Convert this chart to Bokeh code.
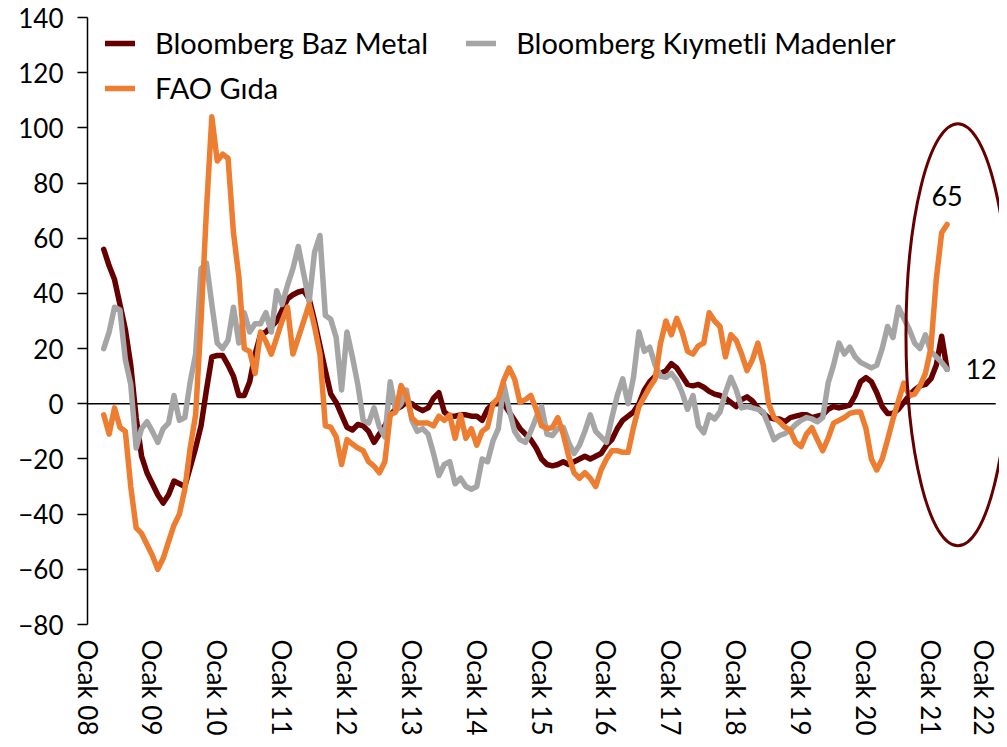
from bokeh.plotting import figure
from bokeh.models import Range1d, FixedTicker, Legend, LegendItem
from bokeh.embed import file_html
from bokeh.resources import INLINE
from bokeh.core.properties import value

# month index counted from Ocak 2008 (0); data run Nisan 2008 .. Nisan 2021
months = list(range(3, 160))

baz_metal = [
    56, 50, 45, 36, 27, 14, -5, -19, -25, -29,
    -33, -36, -33, -28, -29, -30, -23, -16, -8, 5, 17, 17.5,
    17.5, 14, 10, 3, 3, 8, 18, 25, 26, 28, 30, 34,
    38, 39.5, 40.5, 41, 38, 30, 21, 12, 3.5, 0.5, -4, -8.5,
    -9.5, -7.5, -8, -10, -14, -11, -8, -4, -2, -1, 0.5, 0,
    -1.5, -2.5, -1.5, 2, 4, -3, -4.5, -4.5, -4, -4, -4.5, -4.5,
    -6, -2, 0, 0, 0, -3, -6, -9, -11, -13, -16, -20,
    -22, -22.5, -22, -21, -22, -21, -20, -19, -20, -19, -18, -15,
    -13, -9, -6, -4.5, -3, 0, 5, 8, 10, 11, 12, 14.5,
    13, 10, 7, 6.5, 7, 6, 4.5, 3.5, 3, 2, 0.5, -1,
    1.5, 2.5, 1, -1.5, -3.5, -5, -5.5, -5.5, -6.5, -5, -4.5, -4,
    -4, -5, -4.5, -4, -2, -1, -1.5, -1, -0.5, 3, 8, 9.5,
    8, 4, -1, -3.5, -3.5, -2, 0.5, 3, 5, 6.5, 7, 9,
    14, 24.5, 12.5,
]

kiymetli = [
    20, 26, 35, 34, 16, 7, -16, -9, -6.5, -10,
    -14, -9, -7, 3, -6, -5, 8, 18, 49, 51, 36, 22,
    20, 23, 35, 22, 33, 26, 29, 29, 33, 26, 41, 36,
    43, 49, 57, 47, 37, 55, 61, 32, 30.6, 24, 5, 26,
    17, 7, -6, -7, -1.5, -8.5, -12, 8, -2.5, 0, 5, -6,
    -10, -9, -11, -18, -26, -22, -21, -29, -27, -30, -31, -30,
    -20, -21, -13.5, -9, 7, -2, -10, -13, -14, -10, -5, -1,
    -11, -11.5, -9, -8.5, -14, -18, -15, -10, -4, -10, -12, -14,
    -5, 3, 9, 0, 9.6, 26, 19, 20.5, 14, 10, 9.6, 11,
    8.5, 4, -2, 3, -8, -10.5, -4, -5.5, -3, 4, 9.6, 5,
    -1.5, -1, -1.5, -2, -3, -8, -13, -11.5, -10.8, -9.5, -7.5, -6,
    -5, -5.5, -6.5, -5, 7.5, 14, 22, 18, 20.5, 17, 15, 14,
    13, 14, 20, 28, 24, 35, 31, 27, 22, 20, 25, 19,
    17, 15, 12.5,
]

fao_gida = [
    -4, -11, -1.5, -8.5, -10, -30, -45, -47, -51, -55,
    -60, -56, -50, -44, -40, -31, -16, -4, 30, 70, 104, 88,
    90.5, 89, 62, 46, 20, 19, 11, 26, 22.6, 18, 24, 30,
    35, 18, 24, 30, 36, 28, 18, -8, -8.5, -12, -22, -13,
    -14.6, -16, -17, -21, -22.6, -25, -21, -4, -3, 6.6, 3, -5,
    -7, -7, -7, -8, -4.5, -6, -4, -12.5, -4, -12.5, -9, -15,
    -10, -8.5, 0, 2, 8.5, 13, 9, 0.5, 1.5, 3, -2, -8,
    -9, -8.6, -5, -11, -19, -25, -27, -25, -27, -30, -24, -20,
    -17, -17, -17.6, -17.6, -8.5, -1, 2.5, 6, 9, 22, 30, 25,
    31, 26, 19, 18, 21, 22, 33, 30, 28, 17, 25, 23,
    18, 12, 16, 22, 14, 0, -5, -6.5, -8.5, -9.6, -14, -15.5,
    -11, -8.7, -13, -17, -12.5, -7, -6, -5, -3.5, -3, -3, -9,
    -20, -24, -20, -13, -5.5, 1, 7.5, 3, 3.5, 6.5, 11, 20,
    45, 62, 65,
]

tick_months = [0, 12, 24, 36, 48, 60, 72, 84, 96, 108, 120, 132, 144, 156, 168]
tick_labels = ["Ocak 08", "Ocak 09", "Ocak 10", "Ocak 11", "Ocak 12", "Ocak 13",
               "Ocak 14", "Ocak 15", "Ocak 16", "Ocak 17", "Ocak 18", "Ocak 19",
               "Ocak 20", "Ocak 21", "Ocak 22"]
y_ticks = [-80, -60, -40, -20, 0, 20, 40, 60, 80, 100, 120, 140]

series_names = ["Bloomberg Baz Metal", "Bloomberg Kıymetli Madenler", "FAO Gıda"]
colors = ["#660000", "#A5A5A5", "#ED7D31"]

# annotation ellipse (data units)
ell_x, ell_y, ell_w, ell_h = 161.0, 25, 19.2, 153

FONT = "Lato"
FS = "26px"
LEG_FS = "29px"

p = figure(width=999, height=739, output_backend="svg", toolbar_location=None,
           x_range=Range1d(0, 168.7), y_range=Range1d(-80, 140),
           min_border_left=87, min_border_right=0, min_border_top=17,
           min_border_bottom=115)
p.outline_line_color = None
p.xgrid.visible = False
p.ygrid.visible = False
p.background_fill_color = "white"
p.border_fill_color = "white"

# zero line spanning the axis range
p.line(x=[tick_months[0], tick_months[-1]], y=[0, 0], line_color="black", line_width=1.5)

renderers = []
for vals, col in zip([baz_metal, kiymetli, fao_gida], colors):
    r = p.line(x=months, y=vals, line_color=col, line_width=5.5,
               line_join="round", line_cap="round")
    renderers.append(r)

p.ellipse(x=[ell_x], y=[ell_y], width=[ell_w], height=[ell_h],
          fill_color=None, line_color="#660000", line_width=3)

p.text(x=[months[-1]], y=[fao_gida[-1]], text=[str(round(fao_gida[-1]))],
       y_offset=-28, text_align="center", text_baseline="middle",
       text_font=value(FONT), text_font_size=value("27px"), text_color="black")
p.text(x=[months[-1]], y=[kiymetli[-1]], text=[str(round(kiymetli[-1]))],
       x_offset=34, text_align="center", text_baseline="middle",
       text_font=value(FONT), text_font_size=value("27px"), text_color="black")

# axes
xa = p.xaxis[0]
xa.ticker = FixedTicker(ticks=tick_months)
xa.major_label_overrides = {m: lab for m, lab in zip(tick_months, tick_labels)}
xa.major_label_orientation = "vertical"
xa.axis_line_color = None
xa.major_tick_line_color = None
xa.minor_tick_line_color = None
xa.major_label_standoff = 9
xa.major_label_text_font = FONT
xa.major_label_text_font_size = FS
xa.major_label_text_color = "black"

ya = p.yaxis[0]
ya.ticker = FixedTicker(ticks=y_ticks)
ya.axis_line_color = "black"
ya.axis_line_width = 1.5
ya.major_tick_line_color = "black"
ya.major_tick_line_width = 1.5
ya.major_tick_out = 10
ya.major_tick_in = 0
ya.minor_tick_line_color = None
ya.major_label_standoff = 14
ya.major_label_text_font = FONT
ya.major_label_text_font_size = FS
ya.major_label_text_color = "black"

def make_legend(items, loc):
    lg = Legend(items=items, location=loc, orientation="horizontal",
                label_text_font=FONT, label_text_font_size=LEG_FS,
                label_text_color="black", glyph_width=30, glyph_height=30,
                label_height=30, label_standoff=20, spacing=38, padding=0,
                margin=0, border_line_color=None, background_fill_alpha=0)
    return lg

leg1 = make_legend([LegendItem(label=series_names[0], renderers=[renderers[0]]),
                    LegendItem(label=series_names[1], renderers=[renderers[1]])],
                   (18, 564))
leg2 = make_legend([LegendItem(label=series_names[2], renderers=[renderers[2]])],
                   (18, 519))
p.add_layout(leg1, "center")
p.add_layout(leg2, "center")

open("out.html", "w").write(file_html(p, INLINE))
